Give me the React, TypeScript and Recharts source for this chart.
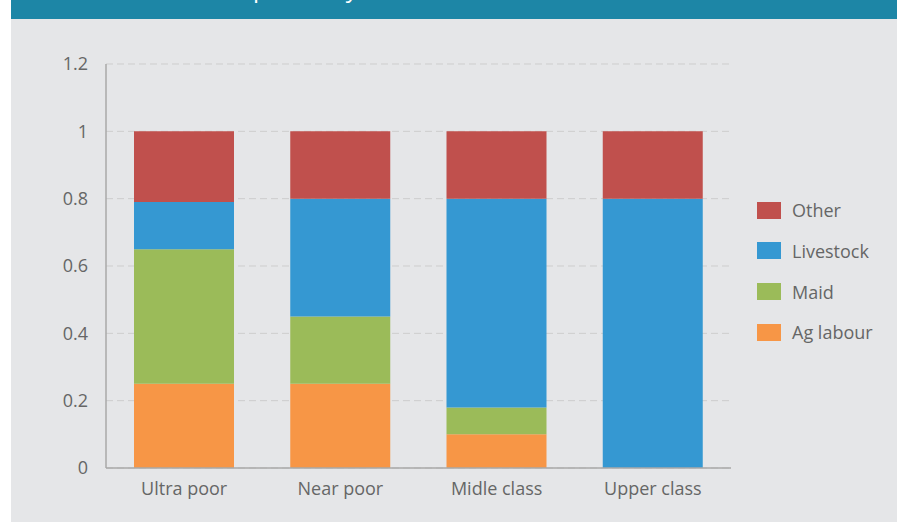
import React from "react";
import { BarChart, Bar, XAxis, YAxis, CartesianGrid, Legend } from "recharts";

const categories = ["Ultra poor", "Near poor", "Midle class", "Upper class"];
const agLabour = [0.25, 0.25, 0.1, 0];
const maid = [0.4, 0.2, 0.08, 0];
const livestock = [0.14, 0.35, 0.62, 0.8];
const other = [0.21, 0.2, 0.2, 0.2];
const yTicks = [0, 0.2, 0.4, 0.6, 0.8, 1, 1.2];
const yTickLabels = ["0", "0.2", "0.4", "0.6", "0.8", "1", "1.2"];
const titleText = "Main occupation by wealth";

const series = [
  { key: "agLabour", name: "Ag labour", color: "#F79646", values: agLabour },
  { key: "maid", name: "Maid", color: "#9BBB59", values: maid },
  { key: "livestock", name: "Livestock", color: "#3598D2", values: livestock },
  { key: "other", name: "Other", color: "#C0504D", values: other },
];

const data = categories.map((c, i) => {
  const row: any = { category: c };
  series.forEach((s) => (row[s.key] = s.values[i]));
  return row;
});

const FONT = "'Open Sans', sans-serif";
const TEXT = "#666666";

const LegendContent = () => (
  <div style={{ paddingLeft: 26, fontFamily: FONT, whiteSpace: "nowrap" }}>
    {[...series].reverse().map((s) => (
      <div
        key={s.key}
        style={{ height: 40.67, display: "flex", alignItems: "center" }}
      >
        <div style={{ width: 24, height: 17, background: s.color, flex: "none" }} />
        <span style={{ marginLeft: 11, fontSize: 18, color: TEXT, whiteSpace: "nowrap" }}>
          {s.name}
        </span>
      </div>
    ))}
  </div>
);

export default function App() {
  return (
    <div
      style={{
        position: "absolute",
        left: 0,
        top: 0,
        width: 897,
        height: 522,
        background: "#ffffff",
        overflow: "hidden",
      }}
    >
      <div
        style={{
          position: "absolute",
          left: 11,
          top: 19,
          width: 886,
          height: 503,
          background: "#E5E6E8",
        }}
      />
      <svg
        width={886}
        height={19}
        style={{ position: "absolute", left: 11, top: 0, display: "block" }}
      >
        <rect x={0} y={0} width={886} height={19} fill="#1D86A6" />
        <text x={128} y={-3.5} fill="#ffffff" fontSize={24} fontFamily={FONT}>
          {titleText}
        </text>
      </svg>
      <div style={{ position: "absolute", left: 0, top: 0 }}>
        <BarChart
          width={897}
          height={522}
          data={data}
          margin={{ top: 64, right: 26, bottom: 24, left: 46 }}
          barSize={100}
        >
          <CartesianGrid
            vertical={false}
            stroke="#CDCDCD"
            strokeDasharray="7 4"
          />
          <XAxis
            dataKey="category"
            height={30}
            tickLine={false}
            tickSize={0}
            tickMargin={14}
            axisLine={{ stroke: "#A8A8A8", strokeWidth: 1.5 }}
            tick={{ fill: TEXT, fontSize: 18, fontFamily: FONT }}
          />
          <YAxis
            width={60}
            domain={[0, 1.2]}
            ticks={yTicks}
            interval={0}
            tickLine={false}
            tickSize={0}
            tickMargin={18}
            tickFormatter={(v: number) => yTickLabels[yTicks.indexOf(v)] ?? String(v)}
            axisLine={{ stroke: "#A8A8A8", strokeWidth: 1.5 }}
            tick={{ fill: TEXT, fontSize: 18, fontFamily: FONT }}
          />
          <Legend
            layout="vertical"
            align="right"
            verticalAlign="middle"
            content={<LegendContent />}
            wrapperStyle={{ top: 190, right: 26, width: 140 }}
          />
          {series.map((s) => (
            <Bar
              key={s.key}
              dataKey={s.key}
              name={s.name}
              stackId="a"
              fill={s.color}
              isAnimationActive={false}
            />
          ))}
        </BarChart>
      </div>
    </div>
  );
}
